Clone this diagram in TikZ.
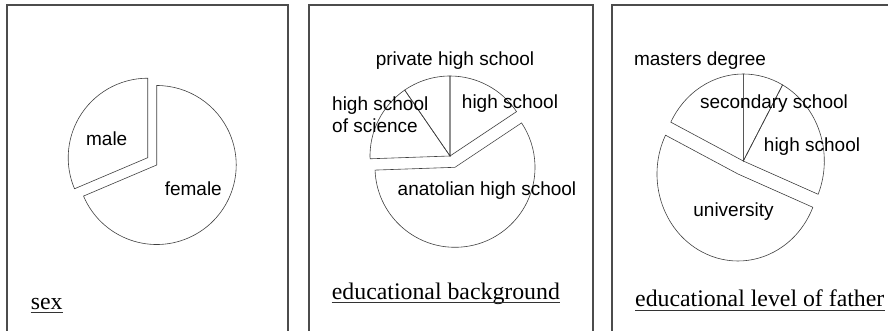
\documentclass[tikz,border=0pt]{standalone}
\usepackage{fontspec}
\setmainfont{Liberation Serif}
\setsansfont{Liberation Sans}

\begin{document}
\begin{tikzpicture}[x=1pt,y=1pt,
    frame/.style={draw=black!70,line width=1.2pt},
    pie/.style={draw=black!75,line width=0.6pt,line join=miter},
    lbl/.style={inner sep=0pt,font=\sffamily\fontsize{19}{22}\selectfont},
    ttl/.style={inner sep=0pt,anchor=base west,font=\fontsize{23.8}{28}\selectfont},
    uline/.style={draw=black!80,line width=0.9pt}]
    \useasboundingbox (0,0) rectangle (888,330);
    \clip (0,0) rectangle (888,330);

    \draw[frame] (7,-5) rectangle (288,325);
    \draw[frame] (309,-5) rectangle (593,325);
    \draw[frame] (612,-5) rectangle (895,325);

    % sex
    \coordinate (fem) at (156.7,165);
    \coordinate (mal) at (147.7,172.3);
    \draw[pie] (fem) -- ++(-157:79.5) arc[start angle=-157,end angle=90,radius=79.5] -- cycle;
    \draw[pie] (mal) -- ++(90:79.5) arc[start angle=90,end angle=203,radius=79.5] -- cycle;
    \node[lbl] (male) at (106.7,191.7) {male};
    \node[lbl] (female) at (193.3,141.7) {female};
    \node[ttl] (t1) at (30.7,21) {sex};
    \draw[uline] ([yshift=-3.7pt]t1.base west) -- ([yshift=-3.7pt]t1.base east);

    % educational background
    \coordinate (up) at (450,174);
    \coordinate (ana) at (455,162.7);
    \draw[pie] (up) -- ++(33.7:80) arc[start angle=33.7,end angle=90,radius=80] -- cycle;
    \draw[pie] (up) -- ++(90:80) arc[start angle=90,end angle=124.5,radius=80] -- cycle;
    \draw[pie] (up) -- ++(124.5:80) arc[start angle=124.5,end angle=182,radius=80] -- cycle;
    \draw[pie] (ana) -- ++(182:80) arc[start angle=182,end angle=393.7,radius=80] -- cycle;
    \node[lbl] (phs) at (455,269) {private high school};
    \node[lbl] (hs) at (510,226) {high school};
    \node[lbl,anchor=west,align=left] (hss) at (332,215) {high school\\of science};
    \node[lbl] (ahs) at (487,139) {anatolian high school};
    \node[ttl] (t2) at (331.7,31) {educational background};
    \draw[uline] ([yshift=-3.7pt]t2.base west) -- ([yshift=-3.7pt]t2.base east);

    % educational level of father
    \coordinate (top) at (743.3,169);
    \coordinate (uni) at (738,156);
    \draw[pie] (top) -- ++(-22.5:81 and 87) arc[start angle=-22.5,end angle=61,x radius=81,y radius=87] -- cycle;
    \draw[pie] (top) -- ++(61:81 and 87) arc[start angle=61,end angle=90,x radius=81,y radius=87] -- cycle;
    \draw[pie] (top) -- ++(90:81 and 87) arc[start angle=90,end angle=153.5,x radius=81,y radius=87] -- cycle;
    \draw[pie] (uni) -- ++(153.5:81 and 87) arc[start angle=153.5,end angle=337.5,x radius=81,y radius=87] -- cycle;
    \node[lbl] (md) at (700,269) {masters degree};
    \node[lbl] (ss) at (774,226) {secondary school};
    \node[lbl] (hs2) at (812,183) {high school};
    \node[lbl] (un) at (733.5,118) {university};
    \node[ttl] (t3) at (635,23.5) {educational level of father};
    \draw[uline] ([yshift=-3.7pt]t3.base west) -- ([yshift=-3.7pt]t3.base east);
\end{tikzpicture}
\end{document}
